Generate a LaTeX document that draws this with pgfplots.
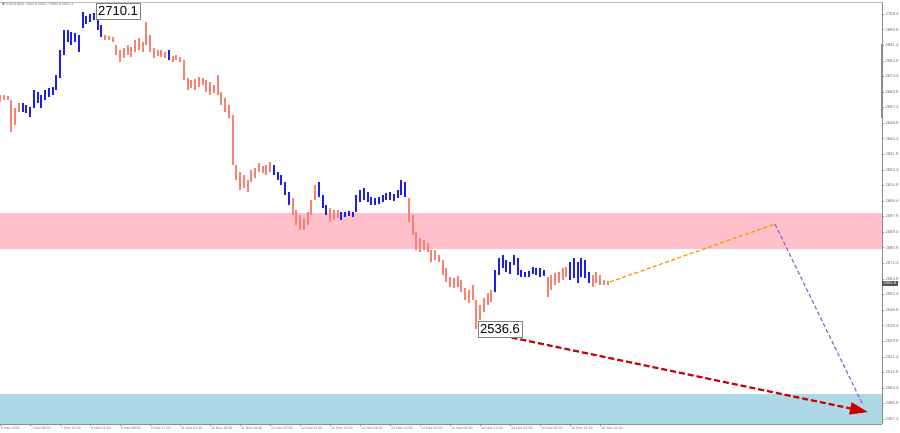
\documentclass[border=0pt]{standalone}
\usepackage{pgfplots}
\pgfplotsset{compat=1.18}
\usepackage{pgfplotstable}
\usepackage{fontspec}
\setmainfont{Liberation Sans}
\newfontfamily\symfont{DejaVu Sans}
\usetikzlibrary{arrows.meta}
\definecolor{barsalmon}{RGB}{250,128,114}
\definecolor{barblue}{RGB}{30,30,235}
\definecolor{zonepink}{RGB}{255,192,203}
\definecolor{zoneblue}{RGB}{173,216,230}
\definecolor{fcorange}{RGB}{255,153,0}
\definecolor{fcpurple}{RGB}{150,100,210}
\definecolor{fcred}{RGB}{204,0,0}
\definecolor{axgray}{RGB}{140,140,140}
\definecolor{lblgray}{RGB}{110,110,110}

% bar index (M30 bars), low, high
\pgfplotstableread{
i lo hi
0 2660.4 2664.2
2 2661.5 2664.2
4 2661.5 2663.7
6 2644.0 2661.5
8 2647.8 2657.1
10 2654.9 2659.8
56 2694.2 2696.9
58 2694.2 2696.4
60 2693.1 2695.9
62 2686.0 2691.5
64 2682.2 2688.8
66 2684.4 2689.8
68 2686.0 2691.5
70 2684.9 2690.4
72 2687.7 2694.2
74 2688.8 2695.3
76 2687.7 2693.1
78 2691.5 2704.0
80 2687.7 2696.9
82 2684.4 2689.8
84 2685.5 2688.8
86 2684.9 2688.8
88 2684.4 2687.7
92 2682.2 2685.5
94 2683.3 2686.0
96 2682.2 2684.9
98 2672.4 2683.3
100 2666.9 2673.5
102 2668.0 2672.4
104 2666.9 2672.9
106 2668.6 2674.0
108 2669.7 2673.5
110 2665.8 2672.4
112 2664.2 2671.3
114 2665.3 2669.7
116 2664.2 2675.1
118 2658.7 2665.8
120 2654.9 2662.6
122 2651.6 2658.7
124 2626.0 2653.3
126 2617.8 2626.0
128 2612.4 2622.2
130 2613.5 2620.5
132 2611.3 2617.8
134 2616.7 2623.3
136 2618.9 2624.4
138 2622.2 2627.1
140 2621.6 2625.5
142 2620.5 2626.0
144 2622.2 2627.6
156 2598.7 2608.0
158 2593.3 2601.4
160 2590.5 2598.7
162 2590.5 2597.1
164 2593.3 2600.4
166 2598.7 2606.9
168 2606.9 2615.1
176 2594.9 2602.5
178 2596.0 2601.4
180 2597.1 2601.4
218 2594.9 2608.0
220 2587.8 2598.7
222 2579.6 2589.4
224 2578.5 2586.2
226 2579.6 2585.1
228 2578.5 2583.4
230 2573.1 2579.6
232 2574.2 2579.6
234 2573.1 2576.9
236 2566.0 2574.2
238 2562.2 2569.8
240 2559.4 2564.9
242 2558.9 2564.3
244 2559.4 2565.4
246 2556.7 2563.2
248 2552.3 2558.9
250 2550.7 2557.8
252 2552.3 2560.5
254 2536.6 2552.3
256 2541.4 2549.6
258 2545.8 2553.4
260 2549.6 2556.2
262 2551.2 2557.8
292 2554.0 2564.9
294 2557.8 2566.0
296 2560.5 2567.1
298 2561.6 2567.6
300 2563.2 2569.8
302 2564.9 2570.3
316 2559.4 2566.0
318 2561.6 2567.6
320 2560.5 2566.0
322 2560.5 2563.2
324 2560.5 2562.7
}\salmontab

\pgfplotstableread{
i lo hi
12 2654.9 2659.8
14 2654.4 2658.7
16 2652.2 2657.6
18 2657.1 2666.9
20 2659.8 2665.8
22 2657.1 2664.2
24 2661.5 2666.9
26 2663.1 2668.0
28 2664.2 2668.6
30 2666.9 2675.1
32 2673.5 2688.8
34 2686.0 2699.7
36 2693.1 2699.7
38 2691.5 2698.6
40 2693.1 2698.0
42 2687.7 2696.9
44 2700.8 2709.5
46 2702.9 2707.3
48 2704.0 2708.4
50 2705.1 2709.0
52 2699.7 2710.1
54 2695.9 2702.4
90 2683.3 2688.8
146 2620.5 2626.0
148 2617.8 2622.2
150 2615.1 2620.5
152 2609.6 2616.7
154 2604.2 2611.3
170 2608.5 2616.7
172 2602.5 2609.6
174 2598.7 2604.2
182 2596.0 2600.4
184 2597.6 2600.4
186 2598.2 2600.9
188 2597.6 2600.4
190 2600.4 2609.6
192 2605.8 2612.4
194 2606.9 2613.5
196 2605.8 2611.3
198 2604.2 2608.5
200 2604.2 2608.0
202 2604.7 2608.5
204 2605.8 2609.6
206 2606.9 2610.7
208 2606.9 2611.3
210 2606.4 2610.2
212 2608.0 2612.4
214 2609.6 2617.8
216 2608.5 2616.7
264 2556.7 2568.7
266 2566.0 2575.3
268 2569.8 2576.9
270 2567.6 2574.2
272 2566.5 2573.1
274 2571.4 2576.9
276 2566.0 2575.3
278 2564.9 2568.7
280 2564.9 2567.6
282 2564.9 2568.2
284 2566.5 2570.3
286 2566.0 2569.8
288 2564.9 2569.8
290 2565.4 2568.7
304 2563.2 2573.1
306 2564.3 2575.3
308 2561.6 2573.1
310 2564.9 2575.3
312 2564.3 2574.2
314 2561.6 2567.6
}\bluetab

\begin{document}
\begin{tikzpicture}
\useasboundingbox (0,0) rectangle (900pt,432pt);
\begin{axis}[
  at={(0pt,8pt)}, anchor=south west,
  scale only axis, width=882pt, height=422pt,
  xmin=0, xmax=470.4, ymin=2484.7, ymax=2714.95,
  axis x line*=bottom, axis y line*=right,
  axis line style={axgray, line width=0.5pt},
  clip mode=individual,
  tick align=outside, major tick length=2pt,
  tick style={axgray, line width=0.4pt},
  xtick={0,16,32,48,64,80,96,112,128,144,160,176,192,208,224,240,256,272,288,304,320},
  xticklabels={6 Nov 2024, 7 Nov 08:30, 7 Nov 16:30, 8 Nov 01:30, 8 Nov 09:30, 8 Nov 17:30, 11 Nov 02:30, 11 Nov 10:30, 11 Nov 18:30, 12 Nov 03:30, 12 Nov 11:30, 12 Nov 19:30, 13 Nov 04:30, 13 Nov 12:30, 13 Nov 20:30, 14 Nov 05:30, 14 Nov 13:30, 14 Nov 21:30, 15 Nov 06:30, 15 Nov 14:30, 15 Nov 22:30},
  x tick label style={anchor=north west, inner sep=0.5pt, yshift=-0.5pt, xshift=0.5pt, font=\fontsize{3.6}{4}\selectfont, text=lblgray},
  ytick={2487.4,2495.9,2504.4,2512.9,2521.4,2529.9,2538.4,2546.9,2555.4,2563.9,2572.4,2580.9,2589.4,2597.9,2606.4,2614.9,2623.4,2631.9,2640.4,2648.9,2657.4,2665.9,2674.4,2682.9,2691.4,2699.9,2708.4},
  scaled y ticks=false,
  y tick label style={/pgf/number format/fixed, /pgf/number format/fixed zerofill, /pgf/number format/precision=1, /pgf/number format/1000 sep={}, /pgf/number format/assume math mode=true, font=\fontsize{4.2}{5}\selectfont, text=lblgray, inner sep=0.8pt, anchor=west, xshift=0.5pt},
]
% zones
\addplot[draw=none, fill=zonepink] coordinates {(0,2580.2) (470.4,2580.2) (470.4,2599.8) (0,2599.8)} -- cycle;
\addplot[draw=none, fill=zoneblue] coordinates {(0,2484.7) (470.4,2484.7) (470.4,2501.0) (0,2501.0)} -- cycle;
% price bars
\addplot[draw=none, mark=none, error bars/.cd, y dir=plus, y explicit, error mark=none,
  error bar style={barsalmon, line width=2.0pt}]
  table[x=i, y=lo, y error expr=\thisrow{hi}-\thisrow{lo}] {\salmontab};
\addplot[draw=none, mark=none, error bars/.cd, y dir=plus, y explicit, error mark=none,
  error bar style={barblue, line width=2.0pt}]
  table[x=i, y=lo, y error expr=\thisrow{hi}-\thisrow{lo}] {\bluetab};
% forecast
\addplot[fcorange, line width=1.3pt, dash pattern=on 4pt off 2.5pt] coordinates {(325.3,2562.2) (413.3,2593.8)};
\addplot[fcpurple, line width=1.2pt, dash pattern=on 4pt off 2.5pt] coordinates {(413.3,2593.8) (460.3,2495.0)};
\addplot[fcred, line width=2.2pt, dash pattern=on 6pt off 3pt, -{Triangle[length=18pt,width=12pt]}] coordinates {(258.7,2534.9) (462.9,2491.2)};
% labels
\node[draw=gray, fill=white, inner xsep=2pt, inner ysep=3.5pt, anchor=west, font=\fontsize{13}{13}\selectfont] at (axis cs:51.2,2710.0) {2710.1};
\node[draw=gray, fill=white, inner xsep=2pt, inner ysep=3.5pt, anchor=west, font=\fontsize{13}{13}\selectfont] at (axis cs:254.9,2536.5) {2536.6};
\node[fill=gray!65!black, text=white, inner xsep=1.5pt, inner ysep=1pt, anchor=west, font=\fontsize{4.2}{5}\selectfont] at (axis cs:470.4,2561.6) {2561.6};
\draw[axgray, line width=1.5pt] (axis cs:470.4,2692.0) -- (axis cs:470.4,2651.6);
\draw[gray!50, line width=0.6pt] (rel axis cs:0,1) -- (rel axis cs:1,1);
\end{axis}
\node[anchor=north west, inner sep=0pt, font=\fontsize{3.6}{4}\selectfont, text=lblgray] at (2pt,429pt) {{\symfont ▼} GOLD,M30\ \ 2561.6 2561.7 2561.0 2561.3};
\end{tikzpicture}
\end{document}
